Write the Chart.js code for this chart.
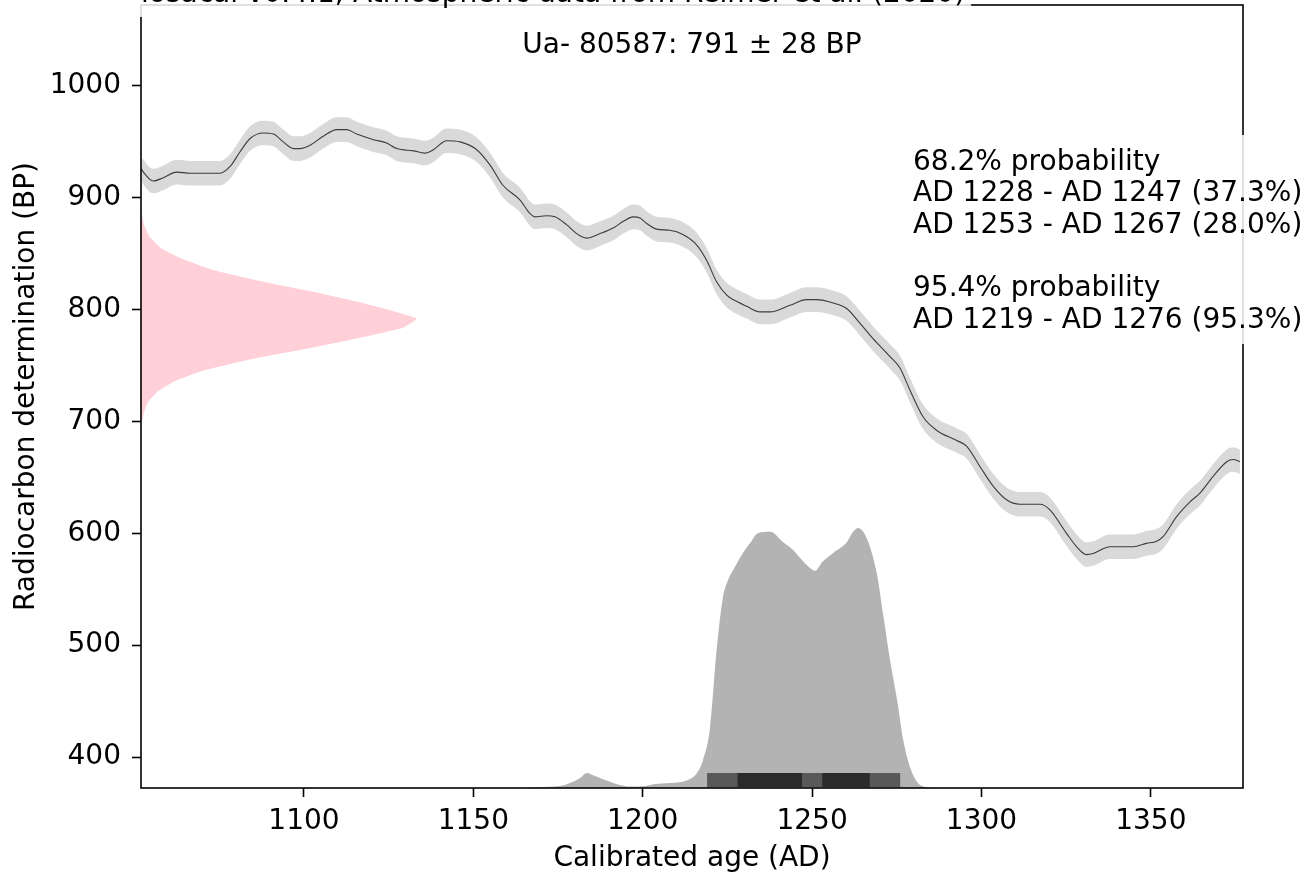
<!DOCTYPE html>
<html>
<head>
<meta charset="utf-8">
<title>Ua- 80587 calibration</title>
<script src="https://cdn.jsdelivr.net/npm/chart.js@4.4.1/dist/chart.umd.min.js"></script>
<style>
  html, body { margin: 0; padding: 0; background: #fff; }
  #wrap { width: 1309px; height: 875px; }
</style>
</head>
<body>
<div id="wrap"><canvas id="cal" width="1309" height="875"></canvas></div>
<script>
// calibration curve (IntCal20, atmospheric) - year AD / radiocarbon age BP
const curveYears = [1052.0, 1052.6, 1055.5, 1058.5, 1062.4, 1066.4, 1075.2, 1078.2, 1081.1, 1084.1, 1088.0,
  1091.0, 1093.9, 1096.9, 1098.8, 1101.8, 1105.7, 1109.7, 1112.6, 1115.6, 1120.5, 1124.4, 1127.4,
  1132.3, 1135.7, 1138.2, 1142.1, 1146.1, 1151.0, 1155.0, 1158.8, 1163.8, 1166.7, 1168.2, 1171.6,
  1174.1, 1177.5, 1180.5, 1183.4, 1187.4, 1191.3, 1194.3, 1197.2, 1199.2, 1201.2, 1204.1, 1208.0,
  1212.0, 1215.9, 1218.9, 1221.8, 1224.8, 1226.7, 1230.7, 1234.6, 1237.6, 1243.5, 1248.4, 1251.3,
  1256.2, 1260.2, 1264.1, 1268.0, 1273.0, 1275.9, 1278.9, 1282.8, 1286.8, 1292.7, 1295.6, 1299.5,
  1303.5, 1307.4, 1311.3, 1317.3, 1320.2, 1325.1, 1328.1, 1331.0, 1333.0, 1337.9, 1344.8, 1348.7,
  1351.7, 1353.6, 1357.6, 1361.5, 1364.5, 1368.4, 1372.4, 1374.3, 1376.3];
const curveBP = [926, 923, 915, 918, 923, 922, 922, 928, 941, 953, 958,
  957, 950, 944, 944, 947, 955, 961, 961, 957, 952, 949, 944,
  942, 940, 943, 951, 950, 943, 929, 911, 898, 886, 883, 884,
  883, 876, 868, 864, 868, 873, 879, 883, 882, 877, 872, 871,
  867, 858, 844, 825, 813, 809, 803, 798, 798, 804, 809, 809,
  806, 801, 788, 774, 758, 748, 728, 704, 692, 683, 678, 660,
  642, 630, 626, 626, 621, 600, 588, 581, 582, 588, 588, 591,
  593, 597, 615, 628, 636, 651, 664, 666, 664];
const CURVE_SIGMA = 11; // half width of the grey band, BP

// measured date, drawn sideways on the y axis
const pinkBP = [889, 876, 865, 855, 846, 835.5, 825, 816, 806, 798, 792, 784, 776, 766, 757, 746, 736, 727, 717, 706, 694];
const pinkWidth = [0, 0.9, 2.6, 6.0, 11.8, 21.3, 36, 50.8, 65.5, 75.3, 81.4, 77.5, 66.5, 50.5, 34.5, 19.0, 10.0, 5.0, 2.0, 0.7, 0];

// calibrated probability (relative to the peak)
const calYears = [1165.8, 1171.1, 1177.0, 1181.5, 1183.5, 1185.9, 1188.9, 1193.3, 1196.2, 1200.7, 1203.6,
  1208.0, 1212.5, 1216.0, 1217.8, 1219.9, 1221.9, 1223.7, 1225.2, 1226.7, 1229.6, 1231.7, 1234.1,
  1237.6, 1241.4, 1244.4, 1246.4, 1249.4, 1250.9, 1253.0, 1256.2, 1260.3, 1262.1, 1263.6, 1265.1,
  1267.1, 1269.2, 1271.0, 1273.0, 1275.1, 1276.9, 1278.9, 1281.0, 1283.3, 1286.3];
const calProb = [0, 0.004, 0.012, 0.038, 0.058, 0.046, 0.031, 0.012, 0.006, 0.008, 0.015,
  0.019, 0.027, 0.058, 0.108, 0.235, 0.542, 0.735, 0.80, 0.838, 0.904, 0.942, 0.981,
  0.985, 0.946, 0.915, 0.885, 0.846, 0.835, 0.869, 0.904, 0.946, 0.985, 1, 0.985,
  0.927, 0.819, 0.665, 0.492, 0.338, 0.185, 0.081, 0.023, 0.004, 0];

// highest posterior density ranges
const hpd95 = [[1219, 1276]];
const hpd68 = [[1228, 1247], [1253, 1267]];

const xTicks = [1100, 1150, 1200, 1250, 1300, 1350];
const yTicks = [400, 500, 600, 700, 800, 900, 1000];

const titleText = 'iosacal v0.4.1; Atmospheric data from Reimer et al. (2020)';
const dateLabel = 'Ua- 80587: 791 \u00b1 28 BP';
const rangeLines = ['68.2% probability', 'AD 1228 - AD 1247 (37.3%)', 'AD 1253 - AD 1267 (28.0%)', '',
  '95.4% probability', 'AD 1219 - AD 1276 (95.3%)'];

// axis limits and drawing sizes
const X_MIN = 1051.9, X_MAX = 1377.2;
const Y_MIN = 372.3, Y_MAX = 1072.4;
const CAL_PEAK = 232.5;   // height of the calibrated peak in BP units
const HPD_Y = 379.4;      // where the range bars sit

const FONT = "'DejaVu Sans', 'Liberation Sans', sans-serif";

const bandUpper = curveYears.map((x, i) => ({ x, y: curveBP[i] + CURVE_SIGMA }));
const bandLower = curveYears.map((x, i) => ({ x, y: curveBP[i] - CURVE_SIGMA }));
const curvePts = curveYears.map((x, i) => ({ x, y: curveBP[i] }));
const pinkPts = pinkBP.map((y, i) => ({ x: X_MIN + pinkWidth[i], y }));
const calPts = calYears.map((x, i) => ({ x, y: Y_MIN + calProb[i] * CAL_PEAK }));

function hpdSets(ranges, color, order) {
  return ranges.map(r => ({
    data: [{ x: r[0], y: HPD_Y }, { x: r[1], y: HPD_Y }],
    showLine: true, borderColor: color, borderWidth: 14, borderCapStyle: 'butt',
    pointRadius: 0, fill: false, order
  }));
}

const smooth = { cubicInterpolationMode: 'monotone' };

const datasets = [
  { data: bandUpper, showLine: true, borderWidth: 0, pointRadius: 0, ...smooth,
    backgroundColor: '#d9d9d9', fill: '+1', order: 10 },
  { data: bandLower, showLine: true, borderWidth: 0, pointRadius: 0, ...smooth, fill: false, order: 9 },
  { data: curvePts, showLine: true, borderColor: '#3c3c3c', borderWidth: 1.1, pointRadius: 0, ...smooth,
    fill: false, order: 8 },
  { data: pinkPts, showLine: true, borderWidth: 0, pointRadius: 0, tension: 0.15,
    backgroundColor: 'rgba(255,192,203,0.75)', fill: 'shape', order: 7 },
  { data: calPts, showLine: true, borderWidth: 0, pointRadius: 0, ...smooth,
    backgroundColor: '#b3b3b3', fill: 'start', order: 6 },
  ...hpdSets(hpd95, '#595959', 5),
  ...hpdSets(hpd68, '#2b2b2b', 4)
];

// frame, text boxes and labels
const calText = {
  id: 'calText',
  afterDraw(chart) {
    const { ctx, chartArea: a } = chart;
    ctx.save();
    ctx.strokeStyle = '#000';
    ctx.lineWidth = 1.6;
    ctx.strokeRect(a.left, a.top, a.right - a.left, a.bottom - a.top);

    ctx.font = '28px ' + FONT;
    ctx.fillStyle = '#000';
    ctx.textBaseline = 'alphabetic';

    // title, mostly outside the picture
    const tw = ctx.measureText(titleText).width;
    ctx.fillStyle = 'rgba(255,255,255,0.85)';
    ctx.fillRect(a.left - 6, -40, tw + 12, 57);
    ctx.fillStyle = '#000';
    ctx.textAlign = 'left';
    ctx.fillText(titleText, a.left, 1.5);

    ctx.textAlign = 'center';
    ctx.fillText(dateLabel, (a.left + a.right) / 2, a.top + 48.3);

    // ranges box
    const lx = a.right - 330;
    ctx.fillStyle = 'rgba(255,255,255,0.85)';
    ctx.fillRect(lx - 6, a.top + 130, chart.width - lx + 6, 209);
    ctx.fillStyle = '#000';
    ctx.textAlign = 'left';
    rangeLines.forEach((t, i) => ctx.fillText(t, lx, a.top + 164.5 + i * 31.6));

    // axis titles
    ctx.textAlign = 'center';
    ctx.fillText('Calibrated age (AD)', (a.left + a.right) / 2, 866);
    ctx.translate(33.5, 386.5);
    ctx.rotate(-Math.PI / 2);
    ctx.fillText('Radiocarbon determination (BP)', 0, 0);
    ctx.restore();
  }
};

const tickFont = { family: FONT, size: 28 };

new Chart(document.getElementById('cal'), {
  type: 'scatter',
  data: { datasets },
  options: {
    responsive: false,
    animation: false,
    devicePixelRatio: 1,
    layout: { padding: { top: 5, right: 66, left: 0, bottom: 0 } },
    plugins: { legend: { display: false }, tooltip: { enabled: false } },
    scales: {
      x: {
        type: 'linear', min: X_MIN, max: X_MAX,
        afterBuildTicks: axis => { axis.ticks = xTicks.map(v => ({ value: v })); },
        afterFit: axis => { axis.height = 87; axis.paddingLeft = 0; axis.paddingRight = 0; },
        grid: { drawOnChartArea: false, tickLength: 9, tickWidth: 1.6, tickColor: '#000' },
        border: { display: false },
        ticks: { color: '#000', font: tickFont, padding: 8, maxRotation: 0, callback: v => String(v) }
      },
      y: {
        type: 'linear', min: Y_MIN, max: Y_MAX,
        afterBuildTicks: axis => { axis.ticks = yTicks.map(v => ({ value: v })); },
        afterFit: axis => { axis.width = 141; axis.paddingTop = 0; axis.paddingBottom = 0; },
        grid: { drawOnChartArea: false, tickLength: 9, tickWidth: 1.6, tickColor: '#000' },
        border: { display: false },
        ticks: { color: '#000', font: tickFont, padding: 11, callback: v => String(v) }
      }
    }
  },
  plugins: [calText]
});
</script>
</body>
</html>
